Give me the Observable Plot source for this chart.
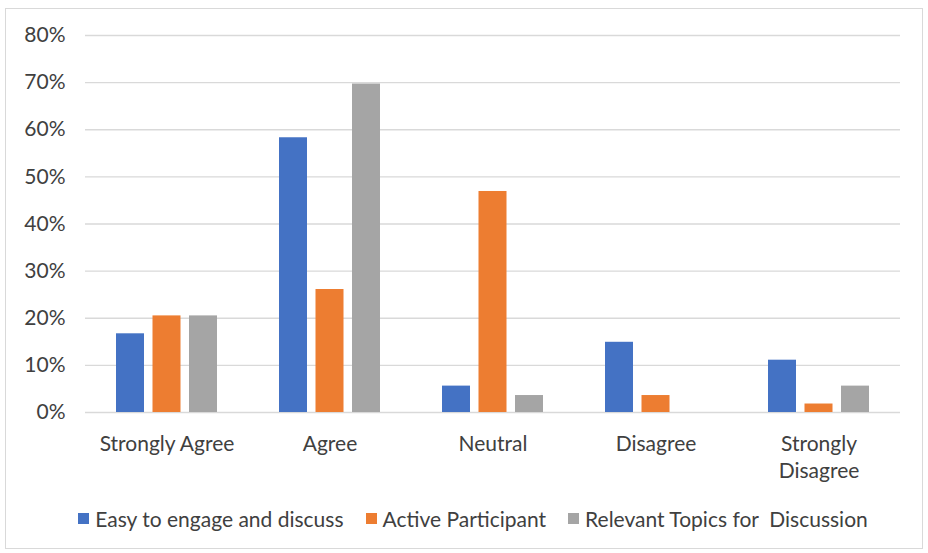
<!DOCTYPE html>
<html>
<head>
<meta charset="utf-8">
<script src="https://cdn.jsdelivr.net/npm/d3@7"></script>
<script src="https://cdn.jsdelivr.net/npm/@observablehq/plot@0.6"></script>
<style>
  html, body { margin: 0; padding: 0; background: #fff; }
  #frame {
    position: absolute; left: 5px; top: 8px;
    width: 918px; height: 541px; box-sizing: border-box;
    border: 1px solid #d9d9d9; background: #fff;
    font-family: Lato, "Open Sans", sans-serif; color: #404040;
  }
  #legend {
    display: flex; justify-content: center; align-items: center;
    gap: 22px; font-size: 21px; margin-top: 12px; padding-left: 18px;
  }
  #legend .item { display: flex; align-items: center; gap: 6px; white-space: pre; }
  #legend .swatch { width: 11px; height: 11px; display: inline-block; }
</style>
</head>
<body>
<div id="frame">
  <div id="chart"></div>
  <div id="legend"></div>
</div>
<script>
// Survey response categories (x axis)
const categories = ["Strongly Agree", "Agree", "Neutral", "Disagree", "Strongly Disagree"];
// Series names and colours
const seriesNames = ["Easy to engage and discuss", "Active Participant", "Relevant Topics for  Discussion"];
const seriesColors = ["#4472C4", "#ED7D31", "#A5A5A5"];
// Share of respondents (%) per category, one array per series
const easyToEngage = [16.7, 58.3, 5.6, 14.9, 11.1];
const activeParticipant = [20.5, 26.1, 46.9, 3.6, 1.8];
const relevantTopics = [20.5, 69.7, 3.6, 0, 5.6];
// Y axis ticks (fractions)
const yTicks = [0, 0.1, 0.2, 0.3, 0.4, 0.5, 0.6, 0.7, 0.8];
// X tick labels (line-broken where needed)
const xLabels = ["Strongly Agree", "Agree", "Neutral", "Disagree", "Strongly\nDisagree"];

const seriesValues = [easyToEngage, activeParticipant, relevantTopics];
const rows = seriesNames.flatMap((s, i) =>
  categories.map((c, j) => ({series: s, category: c, value: seriesValues[i][j] / 100}))
);

// Each series is a bar narrowed and shifted inside the category band
const barWidth = 28, step = 36.5, band = 163;
function seriesBar(i) {
  const offset = (i - 1) * step;
  const side = (band - barWidth) / 2;
  return Plot.barY(rows.filter(d => d.series === seriesNames[i]), {
    x: "category", y: "value", fill: "series",
    insetLeft: side + offset, insetRight: side - offset
  });
}

const chart = Plot.plot({
  width: 916,
  height: 485,
  marginLeft: 79,
  marginRight: 22,
  marginTop: 26,
  marginBottom: 82,
  style: {fontFamily: "Lato, 'Open Sans', sans-serif", fontSize: "21px", color: "#404040", background: "#fff"},
  x: {domain: categories, padding: 0, axis: null},
  y: {domain: [0, 0.8], ticks: yTicks, tickFormat: d3.format(".0%"), tickSize: 0, tickPadding: 20, label: null},
  color: {domain: seriesNames, range: seriesColors},
  marks: [
    Plot.ruleY(yTicks, {stroke: "#d9d9d9", strokeWidth: 1.3}),
    seriesBar(0), seriesBar(1), seriesBar(2),
    Plot.text(categories, {
      x: d => d, y: () => 0, text: (d, i) => xLabels[i],
      lineAnchor: "top", dy: 19, lineHeight: 1.3, fill: "#404040", fontSize: 21
    })
  ]
});
document.getElementById("chart").appendChild(chart);

// Legend below the chart
const legend = document.getElementById("legend");
seriesNames.forEach((s, i) => {
  const item = document.createElement("span");
  item.className = "item";
  const sw = document.createElement("span");
  sw.className = "swatch";
  sw.style.background = seriesColors[i];
  const label = document.createElement("span");
  label.textContent = s;
  item.appendChild(sw);
  item.appendChild(label);
  legend.appendChild(item);
});
</script>
</body>
</html>
